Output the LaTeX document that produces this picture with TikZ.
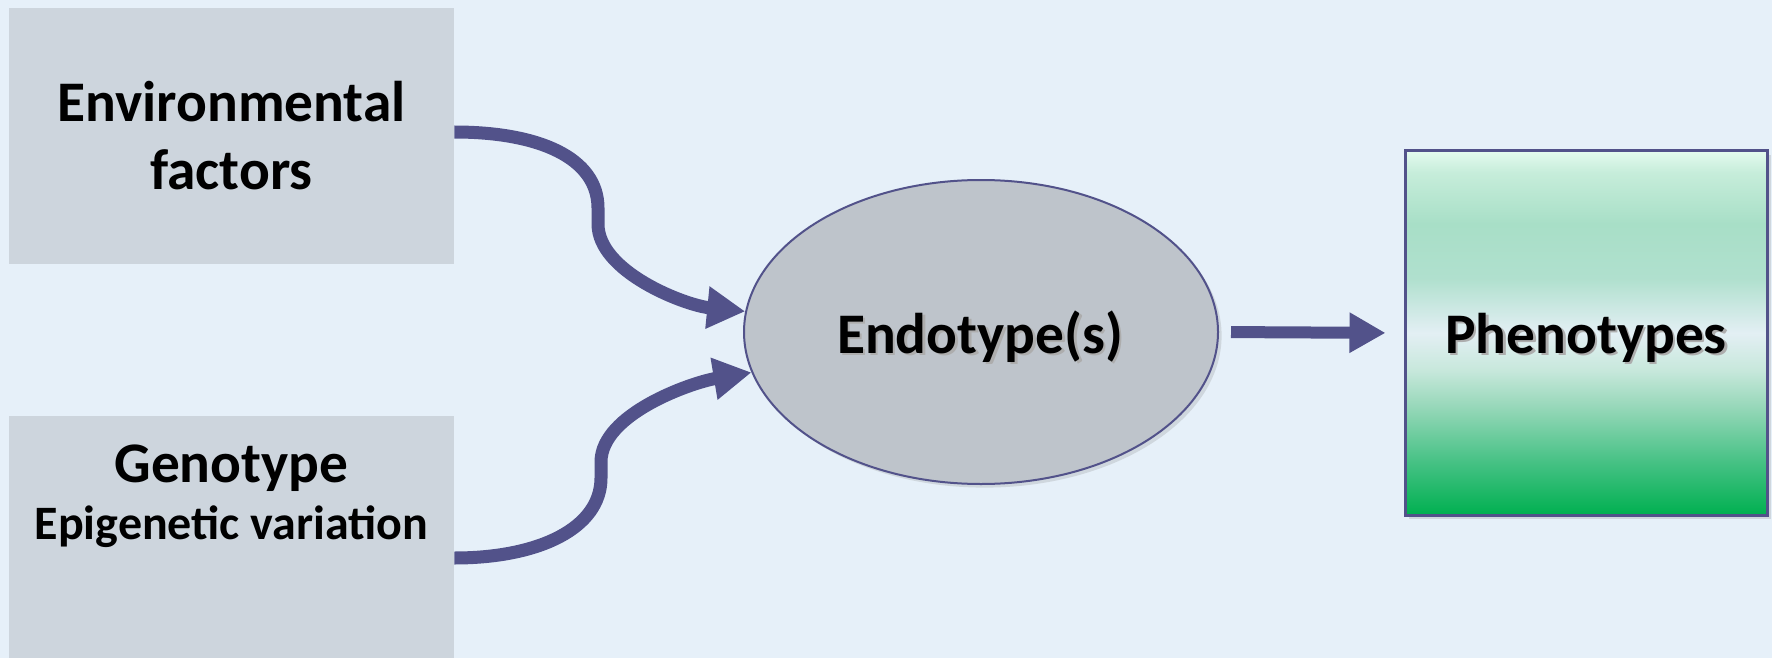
\documentclass[tikz,border=0pt]{standalone}
\usepackage{fontspec}
\setmainfont{Carlito}
\usetikzlibrary{arrows.meta,shapes.geometric,shadows,calc}

\definecolor{bg}{HTML}{E6F0F9}
\definecolor{boxgray}{HTML}{CDD5DD}
\definecolor{ovalgray}{HTML}{BEC4CB}
\definecolor{navy}{HTML}{52528A}
\definecolor{shade}{HTML}{6A6A6A}
% green fade of the phenotype box, top to bottom
\definecolor{gA}{HTML}{E4FAEE}
\definecolor{gB}{HTML}{C6EDDA}
\definecolor{gC}{HTML}{A8DFC7}
\definecolor{gD}{HTML}{B0E0CE}
\definecolor{gE}{HTML}{E3EFF4}
\definecolor{gF}{HTML}{C8E8DC}
\definecolor{gG}{HTML}{98D8BA}
\definecolor{gH}{HTML}{48C286}
\definecolor{gI}{HTML}{00B050}
\pgfdeclareverticalshading{phenofill}{100bp}{%
  color(0bp)=(gI); color(25bp)=(gI); color(32.5bp)=(gH); color(40bp)=(gG);
  color(45bp)=(gF); color(50bp)=(gE); color(57.5bp)=(gD); color(65bp)=(gC);
  color(72bp)=(gB); color(75bp)=(gA); color(100bp)=(gA)}

% bold label with a soft offset shadow behind it
\newcommand{\shadowlabel}[1]{%
  \rlap{\hspace{1.3pt}\raisebox{-1.3pt}{\color{shade!55}#1}}#1}

\begin{document}
\begin{tikzpicture}[x=0.5pt,y=-0.5pt,
  srcbox/.style={rectangle, fill=boxgray, inner sep=0pt},
  bigtext/.style={font=\bfseries\fontsize{28.7pt}{34pt}\selectfont, text=black, inner sep=0pt, anchor=base},
  smalltext/.style={font=\bfseries\fontsize{24pt}{28pt}\selectfont, text=black, inner sep=0pt, anchor=base},
  flow/.style={draw=navy, line width=6.5pt, -{Triangle[length=19pt,width=20pt]}},
  softshadow/.style={drop shadow={opacity=0.22, shadow xshift=1.8pt, shadow yshift=-1.8pt}}
]
% canvas
\fill[bg] (0,0) rectangle (1772,658);
\useasboundingbox (0,0) rectangle (1772,658);

% source boxes
\node[srcbox, minimum width=222.5pt, minimum height=128pt] (env) at (231.5,136) {};
\node[srcbox, minimum width=222.5pt, minimum height=122pt] (geno) at (231.5,538) {};
\node[bigtext] (envA) at (231.5,122) {Environmental};
\node[bigtext] (envB) at (231.5,190) {factors};
\node[bigtext] (genoA) at (231.5,482) {Genotype};
\node[smalltext] (genoB) at (231.5,539) {Epigenetic variation};

% endotype oval
\node[ellipse, draw=navy, line width=1pt, fill=ovalgray, minimum width=237pt,
      minimum height=152pt, inner sep=0pt, softshadow] (endo) at (981,332) {};
\node[bigtext] (endoT) at (980,353) {\shadowlabel{Endotype(s)}};

% phenotype box
\node[rectangle, draw=navy, line width=1.5pt, shading=phenofill, minimum width=181pt,
      minimum height=182pt, inner sep=0pt, softshadow] (pheno) at (1586,333) {};
\node[bigtext] (phenoT) at (1586,353) {\shadowlabel{Phenotypes}};

% connectors
\draw[flow] ([yshift=2pt]env.east) .. controls +(85,0) and +(0,-50) .. (598,208)
  -- (598,224) .. controls +(0,48) and +(-60,-6) .. (endo.175);
\draw[flow] ([yshift=-10pt]geno.east) .. controls +(85,0) and +(0,50) .. (601,478)
  -- (601,462) .. controls +(0,-48) and +(-60,10) .. (endo.190);
\draw[flow, line width=6pt, -{Triangle[length=18pt,width=19pt]}, shorten <=6pt, shorten >=9pt]
  (endo.east) -- (pheno.west);
\end{tikzpicture}
\end{document}
